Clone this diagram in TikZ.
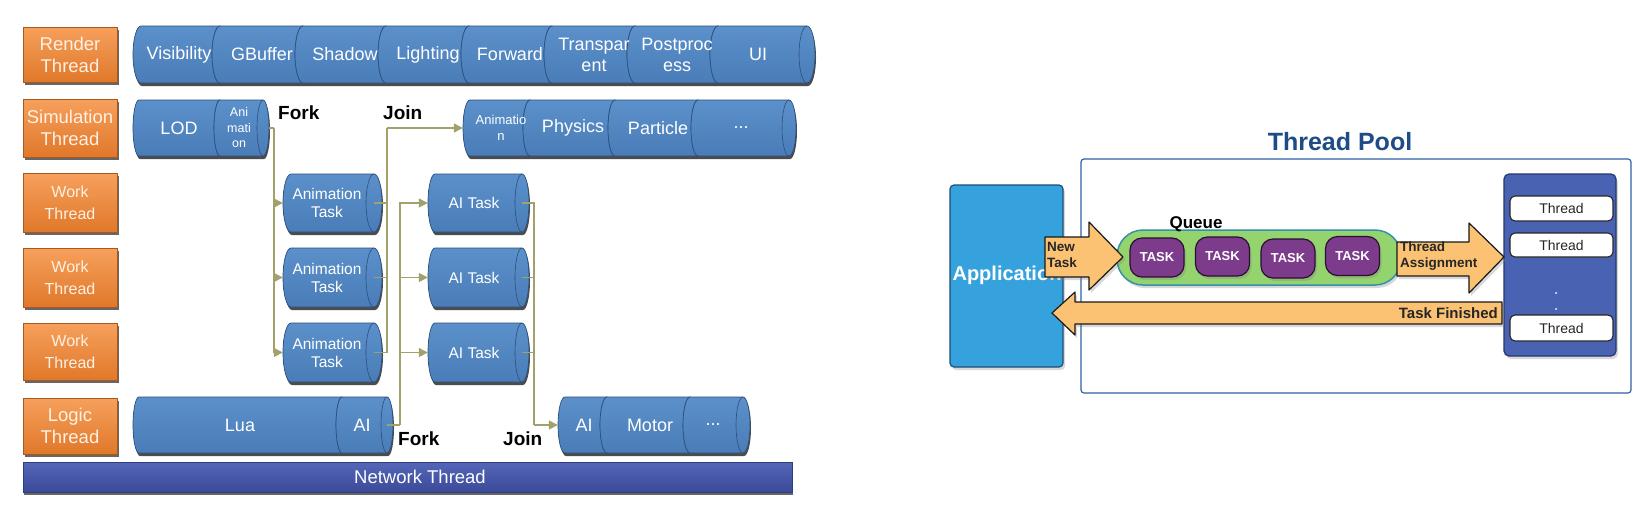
\documentclass[tikz,border=0pt]{standalone}
\usepackage{fontspec}
\setmainfont{Liberation Sans}
\usetikzlibrary{arrows.meta,shadows,fit}

\definecolor{cylA}{HTML}{5B90CA}
\definecolor{cylB}{HTML}{4A7DB8}
\definecolor{cylLine}{HTML}{2C4F7C}
\definecolor{orA}{HTML}{F6A05C}
\definecolor{orB}{HTML}{E0782A}
\definecolor{orLine}{HTML}{A85A1E}
\definecolor{orT}{HTML}{FFF1E3}
\definecolor{netA}{HTML}{5566B8}
\definecolor{netB}{HTML}{3B4A99}
\definecolor{netLine}{HTML}{2E3B7C}
\definecolor{conn}{HTML}{A3A16B}
\definecolor{appFill}{HTML}{35A2DD}
\definecolor{appLine}{HTML}{1E4F73}
\definecolor{panelFill}{HTML}{4A62B2}
\definecolor{panelLine}{HTML}{26366E}
\definecolor{queueFill}{HTML}{94D46E}
\definecolor{queueLine}{HTML}{3590AC}
\definecolor{taskFill}{HTML}{7D3B8C}
\definecolor{taskLine}{HTML}{2B0F33}
\definecolor{arrFill}{HTML}{FBC274}
\definecolor{poolLine}{HTML}{2F62A6}
\definecolor{titleCol}{HTML}{1E4C86}

\newcommand\cylshade[5]{%
  \pgfmathsetmacro\cylh{(#4-#3)/2}%
  \fill[black!70] (#1+#5+1,#3+3) -- (#2-#5+1,#3+3)
    arc[start angle=90,end angle=-90,x radius=#5pt,y radius=\cylh pt]
    -- (#1+#5+1,#4+3)
    arc[start angle=270,end angle=90,x radius=#5pt,y radius=\cylh pt] -- cycle;}
\newcommand\cylseg[5]{%
  \pgfmathsetmacro\cylh{(#4-#3)/2}%
  \path[draw=cylLine, line width=0.7pt, top color=cylA, bottom color=cylB]
    (#1+#5,#3) -- (#2-#5,#3)
    arc[start angle=90,end angle=-90,x radius=#5pt,y radius=\cylh pt]
    -- (#1+#5,#4)
    arc[start angle=270,end angle=90,x radius=#5pt,y radius=\cylh pt] -- cycle;
  \draw[cylLine, line width=0.6pt] (#2-#5,#3)
    arc[start angle=90,end angle=270,x radius=#5pt,y radius=\cylh pt];}

\begin{document}
\begin{tikzpicture}[x=1pt,y=-1pt,
  lbl/.style={draw=orLine, line width=0.8pt, top color=orA, bottom color=orB, text=orT,
    align=center, inner sep=0pt, minimum width=94pt,
    drop shadow={shadow xshift=2pt,shadow yshift=-3pt,fill=black,opacity=0.6}},
  lblbig/.style={font=\fontsize{18.5}{22}\selectfont},
  lblsmall/.style={font=\fontsize{16}{22}\selectfont},
  cyltext/.style={text=white, align=center, inner sep=0pt, font=\fontsize{18}{21}\selectfont},
  tasktext/.style={text=white, align=center, inner sep=0pt, font=\fontsize{15.5}{18}\selectfont},
  tinytext/.style={text=white, align=center, inner sep=0pt, font=\fontsize{12.5}{15.5}\selectfont},
  area/.style={inner sep=0pt},
  netbar/.style={draw=netLine, line width=0.8pt, top color=netA, bottom color=netB,
    drop shadow={shadow xshift=1pt,shadow yshift=-3pt,fill=black,opacity=0.6}},
  forkjoin/.style={font=\bfseries\fontsize{19}{22}\selectfont, inner sep=0pt, anchor=base west},
  line/.style={draw=conn, line width=1.3pt},
  flow/.style={draw=conn, line width=1.3pt, -{Triangle[length=9pt,width=9pt]}},
  soft/.style={drop shadow={shadow xshift=2pt,shadow yshift=-3pt,opacity=0.3}},
  threadbox/.style={draw=black!85, line width=1.1pt, fill=white, rounded corners=5pt,
    minimum width=103pt, inner sep=0pt, text=black!85, font=\fontsize{14}{16}\selectfont},
  taskpill/.style={draw=taskLine, line width=1.2pt, fill=taskFill, rounded corners=12pt,
    minimum width=54pt, minimum height=39pt, inner sep=0pt, text=white,
    font=\bfseries\fontsize{13}{15}\selectfont, soft},
  arrow/.style={draw=black!90, line width=1.2pt, fill=arrFill, line join=round, soft},
  arrtext/.style={inner sep=0pt, align=left, text=black!85, font=\bfseries\fontsize{13.5}{16.5}\selectfont},
]
\useasboundingbox (0,0) rectangle (1648,507);
\fill[white] (0,0) rectangle (1648,507);

% ---------- left: thread labels ----------
\node[lbl, lblbig, minimum height=55pt] (lRender) at (70,54.5) {Render\\Thread};
\node[lbl, lblbig, minimum height=58pt] (lSim) at (70,128) {Simulation\\Thread};
\node[lbl, lblsmall, minimum height=59pt] (lW1) at (70,202.5) {Work\\Thread};
\node[lbl, lblsmall, minimum height=59pt] (lW2) at (70,277.5) {Work\\Thread};
\node[lbl, lblsmall, minimum height=57pt] (lW3) at (70,351.5) {Work\\Thread};
\node[lbl, lblbig, minimum height=56pt] (lLogic) at (70,426) {Logic\\Thread};

% network thread
\node[netbar, minimum width=769pt, minimum height=30pt, inner sep=0pt] (net) at (407.5,477) {};
\node[cyltext, font=\fontsize{18.5}{21}\selectfont] (netT) at (420,477) {Network Thread};

% ---------- render cylinder ----------
\cylshade{133}{815}{26}{83}{8}
\cylseg{133}{228}{26}{83}{8}
\cylseg{212}{311}{26}{83}{8}
\cylseg{295}{394}{26}{83}{8}
\cylseg{378}{477}{26}{83}{8}
\cylseg{461}{560}{26}{83}{8}
\cylseg{544}{643}{26}{83}{8}
\cylseg{627}{726}{26}{83}{8}
\cylseg{710}{815}{26}{83}{8}
\node[area, fit={(133,26) (815,83)}] (render) {};
\node[cyltext] (rVis) at (179,54.5) {Visibility};
\node[cyltext] (rGB) at (262,54.5) {GBuffer};
\node[cyltext] (rSh) at (345,54.5) {Shadow};
\node[cyltext] (rLi) at (428,54.5) {Lighting};
\node[cyltext] (rFw) at (510,54.5) {Forward};
\node[cyltext] (rTr) at (594,54.5) {Transpar\\ent};
\node[cyltext] (rPp) at (677,54.5) {Postproc\\ess};
\node[cyltext] (rUI) at (758,54.5) {UI};

% ---------- simulation cylinders ----------
\cylshade{133}{269}{100}{156}{6}
\cylseg{133}{226}{100}{156}{6}
\cylseg{214}{269}{100}{156}{6}
\node[area, fit={(133,100) (269,156)}] (sim1) {};
\node[cyltext] (sLOD) at (179,128) {LOD};
\node[tinytext] (sAni) at (239,128) {Ani\\mati\\on};

\cylshade{463}{796}{100}{156}{7}
\cylseg{463}{537}{100}{156}{7}
\cylseg{523}{622}{100}{156}{7}
\cylseg{608}{705}{100}{156}{7}
\cylseg{691}{796}{100}{156}{7}
\node[area, fit={(463,100) (796,156)}] (sim2) {};
\node[tinytext, font=\fontsize{13}{15.5}\selectfont] (sAn2) at (501,128) {Animatio\\n};
\node[cyltext] (sPh) at (573,128) {Physics};
\node[cyltext] (sPa) at (658,128) {Particle};
\node[cyltext] (sDots) at (741,128) {...};

% ---------- work thread tasks ----------
\cylshade{283}{382}{174}{232}{8}
\cylseg{283}{382}{174}{232}{8}
\node[area, fit={(283,174) (382,232)}] (an1) {};
\node[tasktext] (an1T) at (327,203) {Animation\\Task};
\cylshade{283}{382}{248}{307}{8}
\cylseg{283}{382}{248}{307}{8}
\node[area, fit={(283,248) (382,307)}] (an2) {};
\node[tasktext] (an2T) at (327,277.5) {Animation\\Task};
\cylshade{283}{382}{323}{382}{8}
\cylseg{283}{382}{323}{382}{8}
\node[area, fit={(283,323) (382,382)}] (an3) {};
\node[tasktext] (an3T) at (327,352.5) {Animation\\Task};

\cylshade{428}{529}{174}{232}{7}
\cylseg{428}{529}{174}{232}{7}
\node[area, fit={(428,174) (529,232)}] (ai1) {};
\node[tasktext] (ai1T) at (474,203) {AI Task};
\cylshade{428}{529}{248}{307}{7}
\cylseg{428}{529}{248}{307}{7}
\node[area, fit={(428,248) (529,307)}] (ai2) {};
\node[tasktext] (ai2T) at (474,277.5) {AI Task};
\cylshade{428}{529}{323}{382}{7}
\cylseg{428}{529}{323}{382}{7}
\node[area, fit={(428,323) (529,382)}] (ai3) {};
\node[tasktext] (ai3T) at (474,352.5) {AI Task};

% ---------- logic cylinders ----------
\cylshade{133}{393}{397}{453}{6}
\cylseg{133}{348}{397}{453}{6}
\cylseg{336}{393}{397}{453}{6}
\node[area, fit={(133,397) (393,453)}] (logic) {};
\node[cyltext] (lLua) at (240,425) {Lua};
\node[cyltext] (lAI) at (362,425) {AI};

\cylshade{558}{750}{397}{453}{7}
\cylseg{558}{614}{397}{453}{7}
\cylseg{600}{697}{397}{453}{7}
\cylseg{683}{750}{397}{453}{7}
\node[area, fit={(558,397) (750,453)}] (aim) {};
\node[cyltext] (mAI) at (584,425) {AI};
\node[cyltext] (mMo) at (650,425) {Motor};
\node[cyltext] (mDots) at (713,425) {...};

% ---------- connectors ----------
\coordinate (forkA) at (274,128);
\draw[line] (sim1.east) -- (forkA);
\draw[flow] (forkA) |- (an1.west);
\draw[flow] (forkA) |- (an2.west);
\draw[flow] (forkA) |- (an3.west);

\coordinate (joinA) at (387,128);
\draw[line] ([xshift=-8pt]an1.east) -| (joinA);
\draw[line] ([xshift=-8pt]an2.east) -| (joinA);
\draw[line] ([xshift=-8pt]an3.east) -| (joinA);
\draw[flow] (joinA) -- (sim2.west);

\coordinate (forkB) at (400,425);
\draw[line] ([xshift=-6pt]logic.east) -- (forkB);
\draw[flow] (forkB) |- (ai1.west);
\draw[flow] (forkB) |- (ai2.west);
\draw[flow] (forkB) |- (ai3.west);

\coordinate (joinB) at (534,425);
\draw[line] ([xshift=-7pt]ai1.east) -| (joinB);
\draw[line] ([xshift=-7pt]ai2.east) -| (joinB);
\draw[line] ([xshift=-7pt]ai3.east) -| (joinB);
\draw[flow] (joinB) -- (aim.west);

\node[forkjoin] (fk1) at (278,119) {Fork};
\node[forkjoin] (jn1) at (383,119) {Join};
\node[forkjoin] (fk2) at (398,445) {Fork};
\node[forkjoin] (jn2) at (503,445) {Join};

% ---------- right: thread pool ----------
\node[draw=poolLine, line width=1.2pt, rounded corners=3pt, fill=white, inner sep=0pt,
  fit={(1081,159) (1631,393)}] (pool) {};
\node[inner sep=0pt, text=titleCol, font=\bfseries\fontsize{25}{28}\selectfont] (title) at (1340,142) {Thread Pool};

\node[draw=appLine, line width=1.2pt, fill=appFill, rounded corners=4pt, inner sep=0pt, soft,
  fit={(950,185) (1063,367)}] (app) {};
\node[inner sep=0pt, text=white, font=\bfseries\fontsize{20}{22}\selectfont] (appT) at (1007,275) {Application};

\node[draw=queueLine, line width=1.5pt, fill=queueFill, rounded corners=26pt, inner sep=0pt, soft,
  fit={(1117,230) (1401,285)}] (queue) {};
\node[inner sep=0pt, anchor=base, font=\bfseries\fontsize{17}{20}\selectfont] (queueT) at (1196,228) {Queue};
\node[taskpill] (tk1) at (1157,257.5) {TASK};
\node[taskpill] (tk2) at (1222.5,256.5) {TASK};
\node[taskpill] (tk3) at (1288,258.5) {TASK};
\node[taskpill] (tk4) at (1352.5,256) {TASK};

\node[draw=panelLine, line width=1.2pt, fill=panelFill, rounded corners=5pt, inner sep=0pt, soft,
  fit={(1504,174) (1616,356)}] (panel) {};
\node[threadbox, minimum height=25pt] (th1) at (1561.5,208.5) {Thread};
\node[threadbox, minimum height=24pt] (th2) at (1561.5,245) {Thread};
\node[threadbox, minimum height=26pt] (th3) at (1561.5,328) {Thread};
\node[circle, fill=white!75!panelFill, inner sep=0pt, minimum size=2.5pt] (dot1) at (1556,293) {};
\node[circle, fill=white!75!panelFill, inner sep=0pt, minimum size=2.5pt] (dot2) at (1556,309) {};

% block arrows
\path[arrow] (1045,237) -- (1089,237) -- (1089,222) -- (1123,257) -- (1089,290) -- (1089,277) -- (1045,277) -- cycle;
\node[arrtext, anchor=west] (newT) at (1047,255) {New\\Task};
\path[arrow] (1397,242) -- (1469,242) -- (1469,223) -- (1504,257) -- (1469,293) -- (1469,276) -- (1397,276) -- cycle;
\node[arrtext, anchor=west] (assignT) at (1400,256) {Thread\\Assignment};
\path[arrow] (1502,302) -- (1075,302) -- (1075,292) -- (1052,313) -- (1075,335) -- (1075,324) -- (1502,324) -- cycle;
\node[arrtext, anchor=east, font=\bfseries\fontsize{15}{17}\selectfont] (finT) at (1498,313) {Task Finished};
\end{tikzpicture}
\end{document}
